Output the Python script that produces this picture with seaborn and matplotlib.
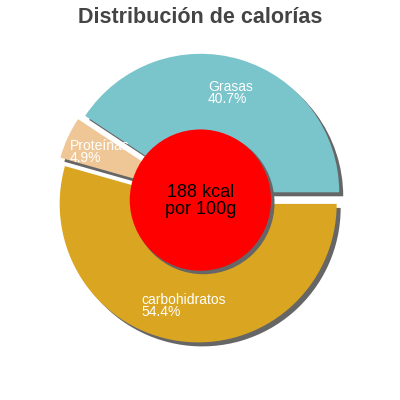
import numpy as np
import matplotlib
matplotlib.use("Agg")
import matplotlib.pyplot as plt
import matplotlib.patches as mpatches
import seaborn as sns

# data
nutrients = ["Grasas", "Proteínas", "carbohidratos"]
percents = [40.7, 4.9, 54.4]
slice_colors = ["#7AC4CC", "#EFC796", "#DAA520"]
center_lines = ["188 kcal", "por 100g"]
title = "Distribución de calorías"

sns.set_style("white")
plt.rcParams["font.family"] = ["Liberation Sans", "DejaVu Sans"]

shadow_col = "#666666"
r_px = 138.5
cx_px, cy_px = 199, 198
# shadow shift is in data units * dpi/72 -> about 4 px here
sh = 4 / r_px * 72 / 100

fig = plt.figure(figsize=(4, 4), dpi=100)
ax = fig.add_axes([0, 0, 1, 1])

shadow_kw = {"ox": sh, "oy": -sh, "facecolor": shadow_col, "edgecolor": shadow_col, "alpha": 1}
wedges, _ = ax.pie(percents, colors=slice_colors, startangle=0, counterclock=True,
                   explode=[0.043] * len(percents), radius=1,
                   wedgeprops={"linewidth": 0}, shadow=shadow_kw)

ax.set_xlim(-cx_px / r_px, (400 - cx_px) / r_px)
ax.set_ylim(-(400 - cy_px) / r_px, cy_px / r_px)
ax.set_aspect("equal")
ax.axis("off")

# labels inside each slice (measured from the pie centre, not the exploded one)
for w, name, p in zip(wedges, nutrients, percents):
    mid = np.deg2rad((w.theta1 + w.theta2) / 2)
    x = 0.79 * w.r * np.cos(mid)
    y = 0.79 * w.r * np.sin(mid)
    ax.text(x, y, f"{name}\n{p}%", color="white", fontsize=10, ha="center", va="center",
            multialignment="left", linespacing=0.82, zorder=3)

# red centre disc with its shadow
disc = mpatches.Circle((0.01, -0.015), 0.51, facecolor="#FF0000", edgecolor="none", zorder=5)
ax.add_patch(disc)
ax.add_patch(mpatches.Shadow(disc, sh * 0.7, -sh * 0.7, facecolor=shadow_col,
                             edgecolor=shadow_col, alpha=1, zorder=4.9))
ax.text(0.01, -0.02, "\n".join(center_lines), fontsize=13, ha="center", va="center",
        color="black", linespacing=1.0, zorder=6)

fig.text(0.5, 0.982, title, ha="center", va="top", fontsize=15.5, fontweight="bold",
         color="#444444")

fig.savefig("out.png", dpi=100)
